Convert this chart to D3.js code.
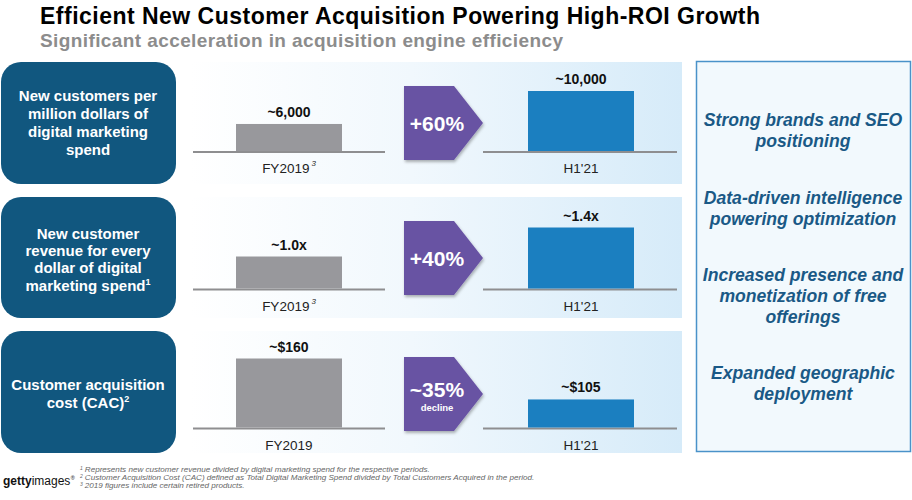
<!DOCTYPE html>
<html><head><meta charset="utf-8">
<script src="https://cdn.jsdelivr.net/npm/d3@7"></script>
<style>
html,body{margin:0;padding:0;background:#fff;}
svg{display:block;font-family:"Liberation Sans",Arial,Helvetica,sans-serif;}
</style></head>
<body>
<svg id="chart" width="912" height="500"></svg>
<script>
// ---------- data ----------
const title = "Efficient New Customer Acquisition Powering High-ROI Growth";
const subtitle = "Significant acceleration in acquisition engine efficiency";
const categories = ["FY2019", "H1'21"];
const categorySup = [["3", ""], ["3", ""], ["", ""]];
const metricLines = [
  [["New customers per", ""], ["million dollars of", ""], ["digital marketing", ""], ["spend", ""]],
  [["New customer", ""], ["revenue for every", ""], ["dollar of digital", ""], ["marketing spend", "1"]],
  [["Customer acquisition", ""], ["cost (CAC)", "2"]]
];
const values1 = [6000, 10000];
const values2 = [1.0, 1.4];
const values3 = [160, 105];
const valueLabels1 = ["~6,000", "~10,000"];
const valueLabels2 = ["~1.0x", "~1.4x"];
const valueLabels3 = ["~$160", "~$105"];
const changeLabels = ["+60%", "+40%", "~35%"];
const changeSubLabels = ["", "", "decline"];
const drivers = [
  ["Strong brands and SEO", "positioning"],
  ["Data-driven intelligence", "powering optimization"],
  ["Increased presence and", "monetization of free", "offerings"],
  ["Expanded geographic", "deployment"]
];
const footnotes = [
  ["1", "Represents new customer revenue divided by digital marketing spend for the respective periods."],
  ["2", "Customer Acquisition Cost (CAC) defined as Total Digital Marketing Spend divided by Total Customers Acquired in the period."],
  ["3", "2019 figures include certain retired products."]
];

// ---------- layout ----------
const svg = d3.select("#chart");
const defs = svg.append("defs");
const grad = defs.append("linearGradient").attr("id", "panelGrad").attr("x1", "0").attr("x2", "1").attr("y1", "0").attr("y2", "0");
grad.append("stop").attr("offset", "0").attr("stop-color", "#ffffff");
grad.append("stop").attr("offset", "0.45").attr("stop-color", "#f1f8fd");
grad.append("stop").attr("offset", "1").attr("stop-color", "#d6ebf9");
const sh = defs.append("filter").attr("id", "shadow").attr("x", "-20%").attr("y", "-20%").attr("width", "150%").attr("height", "150%");
sh.append("feDropShadow").attr("dx", 1).attr("dy", 2).attr("stdDeviation", 1.5).attr("flood-color", "#000").attr("flood-opacity", 0.3);

svg.append("text").attr("x", 40).attr("y", 24).attr("font-size", 23).attr("font-weight", "bold").attr("fill", "#000")
  .attr("textLength", 720).attr("lengthAdjust", "spacing").text(title);
svg.append("text").attr("x", 40).attr("y", 47).attr("font-size", 19).attr("font-weight", "bold").attr("fill", "#8c8c8c")
  .attr("textLength", 523).attr("lengthAdjust", "spacing").text(subtitle);

const rows = [
  {top: 62, h: 122, base: 152, arrowTop: 86, values: values1, labels: valueLabels1, domain: [2600, 10000], maxH: 61, textY: [101, 119, 137, 155]},
  {top: 197, h: 121, base: 289.5, arrowTop: 221, values: values2, labels: valueLabels2, domain: [0.545, 1.4], maxH: 62, textY: [239, 256, 273, 291]},
  {top: 331, h: 122, base: 428.5, arrowTop: 357, values: values3, labels: valueLabels3, domain: [66, 160], maxH: 70, textY: [390, 408]}
];

const x = d3.scalePoint().domain(categories).range([289, 581]);
const barW = 106;
const baseExt = [[193, 385], [483, 677]];

rows.forEach((r, i) => {
  svg.append("rect").attr("x", 1).attr("y", r.top).attr("width", 175).attr("height", r.h)
    .attr("rx", 20).attr("fill", "#11577f");
  const lines = metricLines[i];
  lines.forEach((ln, j) => {
    const t = svg.append("text").attr("x", 88).attr("y", r.textY[j]).attr("text-anchor", "middle")
      .attr("font-size", 15).attr("font-weight", "bold").attr("fill", "#fff");
    t.append("tspan").text(ln[0]);
    if (ln[1]) t.append("tspan").attr("font-size", 9).attr("dy", -6).text(ln[1]);
  });

  svg.append("rect").attr("x", 190).attr("y", r.top).attr("width", 492).attr("height", r.h).attr("fill", "url(#panelGrad)");

  const y = d3.scaleLinear().domain(r.domain).range([r.base, r.base - r.maxH]);
  const g = svg.append("g");
  baseExt.forEach(e => {
    g.append("line").attr("x1", e[0]).attr("x2", e[1]).attr("y1", r.base).attr("y2", r.base)
      .attr("stroke", "#8e8e90").attr("stroke-width", 2);
  });
  g.selectAll("rect.bar").data(r.values).join("rect").attr("class", "bar")
    .attr("x", (d, k) => x(categories[k]) - barW / 2)
    .attr("width", barW)
    .attr("y", d => y(d))
    .attr("height", d => r.base - 1 - y(d))
    .attr("fill", (d, k) => k === 0 ? "#98989c" : "#1b7fc0");
  g.selectAll("text.val").data(r.values).join("text").attr("class", "val")
    .attr("x", (d, k) => x(categories[k]))
    .attr("y", d => y(d) - 7)
    .attr("text-anchor", "middle").attr("font-size", 14).attr("font-weight", "bold").attr("fill", "#111")
    .text((d, k) => r.labels[k]);
  categories.forEach((c, k) => {
    const t = g.append("text").attr("x", x(c)).attr("y", r.base + 21).attr("text-anchor", "middle")
      .attr("font-size", 13.5).attr("fill", "#222");
    t.append("tspan").text(c);
    if (categorySup[i][k]) t.append("tspan").attr("font-size", 8).attr("font-style", "italic").attr("dx", 2).attr("dy", -7).text(categorySup[i][k]);
  });

  const ah = 74, ax = 404, bw = 50, tip = 29, at = r.arrowTop;
  const pts = [[ax, at], [ax + bw, at], [ax + bw + tip, at + ah / 2], [ax + bw, at + ah], [ax, at + ah]];
  svg.append("path").attr("d", d3.line()(pts) + "Z").attr("fill", "#6852a3").attr("filter", "url(#shadow)");
  if (changeSubLabels[i]) {
    svg.append("text").attr("x", 437).attr("y", at + 40).attr("text-anchor", "middle")
      .attr("font-size", 21).attr("font-weight", "bold").attr("fill", "#fff").text(changeLabels[i]);
    svg.append("text").attr("x", 437).attr("y", at + 54).attr("text-anchor", "middle")
      .attr("font-size", 9.5).attr("font-weight", "bold").attr("fill", "#fff").text(changeSubLabels[i]);
  } else {
    svg.append("text").attr("x", 437).attr("y", at + ah / 2 + 8).attr("text-anchor", "middle")
      .attr("font-size", 21).attr("font-weight", "bold").attr("fill", "#fff").text(changeLabels[i]);
  }
});

svg.append("rect").attr("x", 696.5).attr("y", 61.5).attr("width", 214).attr("height", 390)
  .attr("fill", "#f2f9fd").attr("stroke", "#4a92c9").attr("stroke-width", 1.5);
const driverY = [126, 204, 281, 379];
drivers.forEach((d, i) => {
  d.forEach((ln, j) => {
    svg.append("text").attr("x", 803).attr("y", driverY[i] + j * 21).attr("text-anchor", "middle")
      .attr("font-size", 17.6).attr("font-weight", "bold").attr("font-style", "italic").attr("fill", "#1a5986").text(ln);
  });
});

footnotes.forEach((f, i) => {
  const t = svg.append("text").attr("x", 80).attr("y", 472 + i * 7.8)
    .attr("font-size", 8.1).attr("font-style", "italic").attr("fill", "#666");
  t.append("tspan").attr("font-size", 5).attr("dy", -2).text(f[0]);
  t.append("tspan").attr("dx", 2).attr("dy", 2).text(f[1]);
});

const logo = svg.append("text").attr("x", 3).attr("y", 485).attr("font-size", 12).attr("fill", "#111");
logo.append("tspan").attr("font-weight", "bold").text("getty");
logo.append("tspan").text("images");
logo.append("tspan").attr("font-size", 5.5).attr("dx", 0.5).attr("dy", -5).text("®");
</script>
</body></html>
